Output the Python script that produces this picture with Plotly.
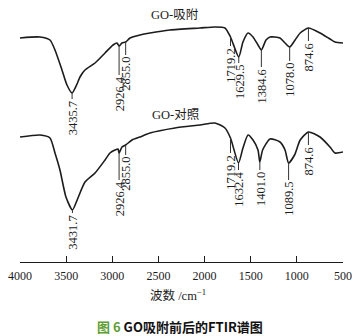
import plotly.graph_objects as go

# FTIR spectra of graphene oxide (GO) after adsorption and the control sample
# wavenumber in cm^-1, transmittance in arbitrary units (curves are offset)
wn_ads = [4000, 3783, 3675, 3621, 3545, 3491, 3435.7, 3382, 3350, 3296, 3187, 3079,
          2992, 2949, 2926.4, 2895, 2855.0, 2808, 2700, 2591, 2375, 2050, 1887, 1779,
          1719.2, 1629.5, 1584, 1529, 1475, 1421, 1384.6, 1334, 1291, 1183, 1128,
          1078.0, 1019, 964, 874.6, 749, 641, 587, 500]
t_ads = [224, 225, 222, 212, 192, 177, 169, 178, 185, 192, 199, 209,
         217, 219, 216, 219, 220, 224, 227, 229, 232, 234, 235, 234,
         225, 205, 220, 229, 225, 217, 212, 222, 225, 224, 219,
         215, 222, 229, 234, 229, 223, 220, 219]

wn_ctl = [4000, 3783, 3675, 3621, 3567, 3502, 3431.7, 3372, 3296, 3187, 3079, 3025,
          2971, 2938, 2926.4, 2895, 2855.0, 2786, 2700, 2591, 2320, 2050, 1887, 1779,
          1719.2, 1632.4, 1584, 1529, 1475, 1421, 1401.0, 1371, 1291, 1183, 1128,
          1089.5, 1025, 964, 874.6, 749, 641, 587, 500]
t_ctl = [125, 127, 124, 109, 92, 65, 52, 64, 80, 89, 102, 109,
         112, 113, 109, 115, 117, 122, 125, 129, 134, 137, 139, 134,
         124, 99, 114, 127, 122, 112, 100, 112, 123, 120, 112,
         99, 107, 122, 130, 125, 115, 109, 110]

# labelled absorption bands
peaks_ads = [3435.7, 2926.4, 2855.0, 1719.2, 1629.5, 1384.6, 1078.0, 874.6]
peaks_ctl = [3431.7, 2926.4, 2855.0, 1719.2, 1632.4, 1401.0, 1089.5, 874.6]
# leader-line lengths (px) below each band
lead_ads = [6, 29, 13, 9, 6, 17, 14, 13]
lead_ctl = [3, 27, 10, 15, 7, 8, 17, 13]

series_names = ["GO-吸附", "GO-对照"]
name_wn = 2320          # horizontal position of the series names
name_lift = [13, 10]    # px above the curve (read at 2050 cm^-1)
tick_vals = [4000, 3500, 3000, 2500, 2000, 1500, 1000, 500]

SERIF = "Liberation Serif, Noto Sans CJK SC, serif"
INK = "#1c1c1c"
LABEL_SIZE = 12.5

fig = go.Figure()
for wn, t in [(wn_ads, t_ads), (wn_ctl, t_ctl)]:
    fig.add_trace(go.Scatter(x=wn, y=t, mode="lines",
                             line=dict(color=INK, width=1.6, shape="spline", smoothing=0.6),
                             hoverinfo="skip", showlegend=False))

annotations = []
shapes = []
for wn, t, peaks, leads in [(wn_ads, t_ads, peaks_ads, lead_ads),
                            (wn_ctl, t_ctl, peaks_ctl, lead_ctl)]:
    for p, ln in zip(peaks, leads):
        v = t[wn.index(p)]
        label = f"{p:.1f}"
        # approximate rendered length of the rotated label (digits 0.5em, point 0.25em)
        half_len = ((len(label) - 1) * 0.5 + 0.25) * LABEL_SIZE / 2
        shapes.append(dict(type="line", xref="x", yref="y", x0=p, x1=p,
                           y0=v, y1=v - ln, line=dict(color="#333", width=1)))
        annotations.append(dict(x=p, y=v, xref="x", yref="y", text=label,
                                showarrow=False, textangle=-90, xanchor="center",
                                yanchor="middle", xshift=1, yshift=-(ln + 2 + half_len),
                                borderpad=0,
                                font=dict(family=SERIF, size=LABEL_SIZE, color=INK)))

# series labels above each curve
for name, wn, t, lift in [(series_names[0], wn_ads, t_ads, name_lift[0]),
                          (series_names[1], wn_ctl, t_ctl, name_lift[1])]:
    annotations.append(dict(x=name_wn, y=t[wn.index(2050)], xref="x", yref="y", text=name,
                            showarrow=False, xanchor="center", yanchor="middle", yshift=lift,
                            font=dict(family=SERIF, size=12.5, color=INK)))

annotations.append(dict(x=0.49, y=0, xref="paper", yref="paper", yanchor="middle",
                        yshift=-33, showarrow=False, text="波数 /cm<sup>−1</sup>",
                        font=dict(family=SERIF, size=12.5, color=INK)))
annotations.append(dict(x=0.495, y=0, xref="paper", yref="paper", yanchor="middle",
                        yshift=-64, showarrow=False,
                        text="<b><span style='color:#5e9e33'>图 6</span> GO吸附前后的FTIR谱图</b>",
                        font=dict(family="Noto Sans CJK SC, sans-serif", size=13, color="#111")))

fig.update_layout(
    width=355, height=336,
    margin=dict(l=20, r=12, t=0, b=74),
    paper_bgcolor="white", plot_bgcolor="white",
    xaxis=dict(range=[4000, 500], tickvals=tick_vals, ticks="inside", ticklen=6,
               tickcolor=INK, tickwidth=1, showline=True, linecolor=INK, linewidth=1,
               showgrid=False, zeroline=False, ticklabelstandoff=3,
               tickfont=dict(family=SERIF, size=12, color=INK)),
    yaxis=dict(range=[0, 262], visible=False, showgrid=False, zeroline=False),
    annotations=annotations, shapes=shapes,
)

fig.write_html("out.html")
